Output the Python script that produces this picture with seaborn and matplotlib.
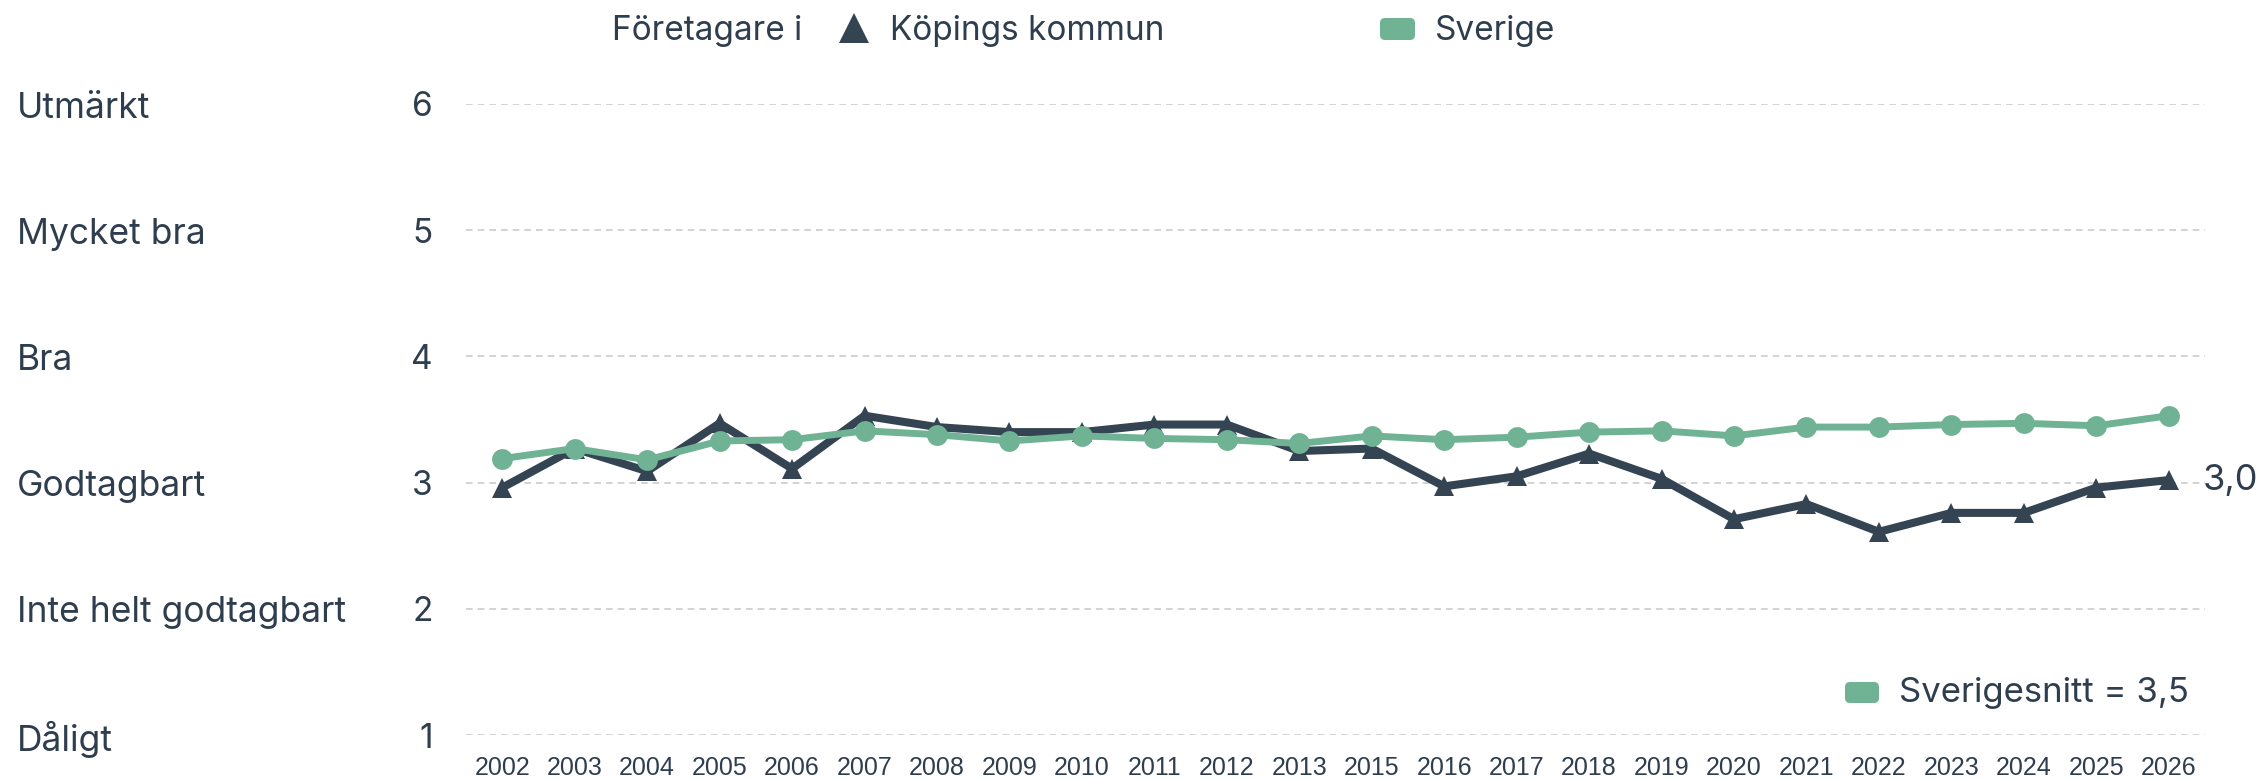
import matplotlib
matplotlib.use("Agg")
import matplotlib.pyplot as plt
import matplotlib.transforms as mtransforms
from matplotlib.lines import Line2D
from matplotlib.patches import FancyBboxPatch
import seaborn as sns
import pandas as pd

years = ["2002", "2003", "2004", "2005", "2006", "2007", "2008", "2009", "2010",
         "2011", "2012", "2013", "2015", "2016", "2017", "2018", "2019", "2020",
         "2021", "2022", "2023", "2024", "2025", "2026"]
koping = [2.96, 3.27, 3.09, 3.47, 3.11, 3.53, 3.44, 3.40, 3.40, 3.46, 3.46, 3.25,
          3.27, 2.97, 3.05, 3.23, 3.03, 2.71, 2.83, 2.61, 2.76, 2.76, 2.96, 3.02]
sverige = [3.19, 3.27, 3.18, 3.33, 3.34, 3.41, 3.38, 3.33, 3.37, 3.35, 3.34, 3.31,
           3.37, 3.34, 3.36, 3.40, 3.41, 3.37, 3.44, 3.44, 3.46, 3.47, 3.45, 3.53]
level_ticks = [1, 2, 3, 4, 5, 6]
level_names = ["Dåligt", "Inte helt godtagbart", "Godtagbart", "Bra", "Mycket bra", "Utmärkt"]
last_label = "3,0"
avg_label = "Sverigesnitt = 3,5"

DARK = "#344453"
GREEN = "#6fb394"
TEXT = "#2f3e4e"
GRID = "#cccccc"
FONT = ["Inter", "DejaVu Sans"]
FS = 24

sns.set_theme(style="white")
plt.rcParams["font.family"] = FONT

W, H = 2260, 779
fig = plt.figure(figsize=(W / 100, H / 100), dpi=100)
ax_left, ax_right, ax_top, ax_bot = 466, 2205, 104, 735
ax = fig.add_axes([ax_left / W, 1 - ax_bot / H, (ax_right - ax_left) / W, (ax_bot - ax_top) / H])

df = pd.DataFrame({"year": years, "Köpings kommun": koping, "Sverige": sverige})

sns.lineplot(data=df, x="year", y="Köpings kommun", ax=ax, color=DARK, lw=5.8,
             marker="^", markersize=15, markeredgewidth=0, sort=False, zorder=3)
sns.lineplot(data=df, x="year", y="Sverige", ax=ax, color=GREEN, lw=5.0,
             marker="o", markersize=15, markeredgewidth=0, sort=False, zorder=4)

ax.set_xlim(-0.5, len(years) - 0.5)
ax.set_ylim(1, 6)
ax.set_yticks(level_ticks)
ax.set_yticklabels([str(t) for t in level_ticks], fontsize=FS, color=TEXT)
ax.tick_params(axis="y", length=0, pad=24)
ax.tick_params(axis="x", length=0, pad=15)
for lab in ax.get_xticklabels():
    lab.set_fontfamily(["Liberation Sans", "DejaVu Sans"])
    lab.set_fontsize(18)
    lab.set_color(TEXT)
ax.set_xlabel("")
ax.set_ylabel("")
for s in ax.spines.values():
    s.set_visible(False)
ax.grid(False)
for t in level_ticks:
    ax.axhline(t, color=GRID, lw=1.2, ls=(0, (4, 3)), zorder=1)

# left category labels (slightly below each gridline, as in the reference)
shift = mtransforms.ScaledTranslation(0, -4 / 100, fig.dpi_scale_trans)
blend = mtransforms.blended_transform_factory(fig.transFigure, ax.transData) + shift
for t, name in zip(level_ticks, level_names):
    ax.text(17 / W, t, name, transform=blend, fontsize=25.5, color=TEXT,
            ha="left", va="center")

# last value label
ax.annotate(last_label, xy=(len(years) - 1, koping[-1]), xytext=(34, 0),
            textcoords="offset pixels", fontsize=26, color=TEXT,
            ha="left", va="center", annotation_clip=False)

def fx(px):
    return px / W

def fy(py):
    return 1 - py / H

pix = mtransforms.IdentityTransform()

def rbox(x0, ytop, w, h):
    # pixel box, y measured from the top of the image
    fig.add_artist(FancyBboxPatch((x0, H - ytop - h), w, h,
                                  boxstyle="round,pad=0,rounding_size=5",
                                  transform=pix, color=GREEN, lw=0))

# top legend
fig.text(fx(612), fy(31), "Företagare i", fontsize=FS, color=TEXT, ha="left", va="center")
fig.add_artist(Line2D([fx(854)], [fy(28)], marker="^", markersize=22, color=DARK,
                      markeredgewidth=0, transform=fig.transFigure))
fig.text(fx(890), fy(31), "Köpings kommun", fontsize=FS, color=TEXT, ha="left", va="center")
rbox(1380, 18, 35, 22)
fig.text(fx(1435), fy(31), "Sverige", fontsize=FS, color=TEXT, ha="left", va="center")

# bottom-right legend
rbox(1845, 682, 34, 21)
fig.text(fx(1899), fy(693), avg_label, fontsize=25, color=TEXT, ha="left", va="center")

fig.savefig("out.png", dpi=100, facecolor="white")
